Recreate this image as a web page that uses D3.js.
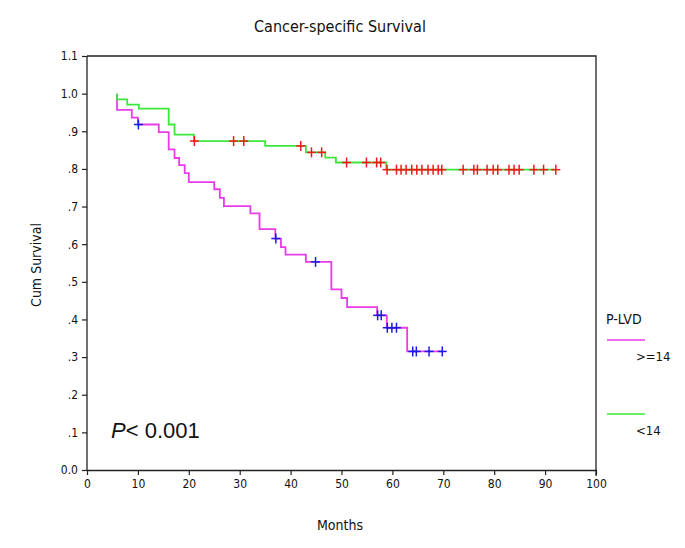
<!DOCTYPE html>
<html>
<head>
<meta charset="utf-8">
<script src="https://cdn.jsdelivr.net/npm/d3@7"></script>
<style>
  html, body { margin: 0; padding: 0; background: #fff; }
  svg text { font-family: "DejaVu Sans Condensed", "DejaVu Sans", sans-serif; fill: #111; }
</style>
</head>
<body>
<svg id="chart" width="685" height="548"></svg>
<script>
// ---------- data ----------
const title = "Cancer-specific Survival";
const xLabel = "Months";
const yLabel = "Cum Survival";
const legendTitle = "P-LVD";
const groups = [">=14", "<14"];

const xTicks = [0, 10, 20, 30, 40, 50, 60, 70, 80, 90, 100];
const yTicks = [0, 0.1, 0.2, 0.3, 0.4, 0.5, 0.6, 0.7, 0.8, 0.9, 1.0, 1.1];
const yTickLabels = ["0.0", ".1", ".2", ".3", ".4", ".5", ".6", ".7", ".8", ".9", "1.0", "1.1"];

// P-LVD >= 14 : step times and survival after each step
const highStart = 5.9;
const highTimes = [5.9, 8.8, 10.0, 14.1, 16.05, 17.2, 18.1, 19.2, 20.0, 25.0, 26.1, 26.9, 32.1, 33.9, 37.0, 38.1, 39.0, 43.0, 48.0, 50.0, 51.1, 57.0, 58.9, 62.9];
const highSurv  = [0.957, 0.936, 0.918, 0.898, 0.852, 0.829, 0.810, 0.789, 0.765, 0.746, 0.723, 0.701, 0.682, 0.640, 0.615, 0.592, 0.572, 0.553, 0.480, 0.457, 0.433, 0.411, 0.378, 0.315];
const highEnd = 69.8;
const highCensored = [10.1, 37.1, 44.9, 57.1, 57.8, 59.0, 59.9, 60.8, 64.0, 64.7, 67.2, 69.8];

// P-LVD < 14
const lowStart = 5.9;
const lowTimes = [5.9, 7.9, 10.2, 16.05, 17.2, 21.0, 35.0, 43.0, 46.8, 48.9, 58.8];
const lowSurv  = [0.985, 0.971, 0.960, 0.918, 0.891, 0.874, 0.861, 0.844, 0.830, 0.817, 0.798];
const lowEnd = 92.1;
const lowCensored = [21.1, 28.8, 30.8, 42.0, 44.1, 46.1, 51.0, 54.9, 56.9, 57.7, 58.95, 60.8, 61.7, 62.7, 63.8, 64.8, 65.8, 67.0, 68.0, 69.0, 69.7, 73.9, 76.0, 76.7, 78.6, 79.8, 80.7, 82.9, 83.9, 84.9, 87.8, 89.7, 92.1];

const pText = "< 0.001";

// ---------- drawing ----------
const svg = d3.select("#chart");
const x = d3.scaleLinear().domain([0, 100]).range([87, 596]);
const y = d3.scaleLinear().domain([0, 1.1]).range([470, 56]);

const colHigh = "#e83ce8", colLow = "#3ce83c";
const colCensHigh = "#1a1ae0", colCensLow = "#ee1a1a";

// frame (top + right)
svg.append("path")
  .attr("d", `M${x(0)},${y(1.1)}H${x(100)}V${y(0)}`)
  .attr("fill", "none").attr("stroke", "#222").attr("stroke-width", 1.3);

// axes
const xAxis = d3.axisBottom(x).tickValues(xTicks).tickSize(5).tickPadding(4).tickFormat(d3.format("d"));
const yAxis = d3.axisLeft(y).tickValues(yTicks).tickSize(5).tickPadding(4).tickFormat((d, i) => yTickLabels[i]);

const gx = svg.append("g").attr("transform", `translate(0,${y(0)})`).call(xAxis);
const gy = svg.append("g").attr("transform", `translate(${x(0)},0)`).call(yAxis);
[gx, gy].forEach(g => {
  g.select(".domain").attr("stroke", "#222").attr("stroke-width", 1.3);
  g.selectAll(".tick line").attr("stroke", "#222").attr("stroke-width", 1.2);
  g.selectAll(".tick text").style("font-size", "12px").attr("fill", "#111")
    .style("font-family", '"DejaVu Sans Condensed", "DejaVu Sans", sans-serif');
});
gx.select(".domain").attr("d", `M${x(0)},0.5H${x(100)}V6`);
gy.select(".domain").attr("d", `M0,${y(0)}V${y(1.1)}`);

function stepPoints(start, times, surv, end) {
  const pts = [[start, 1.0]];
  times.forEach((t, i) => pts.push([t, surv[i]]));
  pts.push([end, surv[surv.length - 1]]);
  return pts;
}
const line = d3.line().x(d => x(d[0])).y(d => y(d[1])).curve(d3.curveStepAfter);

const highPts = stepPoints(highStart, highTimes, highSurv, highEnd);
const lowPts = stepPoints(lowStart, lowTimes, lowSurv, lowEnd);
// step-after with values: need first point value 1.0 then drop at time t
function toStep(start, times, surv, end) {
  const pts = [[start, 1.0]];
  let prev = 1.0;
  times.forEach((t, i) => { pts.push([t, prev]); pts.push([t, surv[i]]); prev = surv[i]; });
  pts.push([end, prev]);
  return pts;
}
const lineLin = d3.line().x(d => x(d[0])).y(d => y(d[1]));

svg.append("path").datum(toStep(highStart, highTimes, highSurv, highEnd))
  .attr("d", lineLin).attr("fill", "none").attr("stroke", colHigh).attr("stroke-width", 1.8);
svg.append("path").datum(toStep(lowStart, lowTimes, lowSurv, lowEnd))
  .attr("d", lineLin).attr("fill", "none").attr("stroke", colLow).attr("stroke-width", 1.8);

function survAt(t, times, surv) {
  let s = 1.0;
  times.forEach((tt, i) => { if (tt <= t) s = surv[i]; });
  return s;
}
function drawCensors(list, times, surv, color) {
  const g = svg.append("g");
  list.forEach(t => {
    const cx = x(t), cy = y(survAt(t, times, surv));
    g.append("line").attr("x1", cx).attr("x2", cx).attr("y1", cy - 5).attr("y2", cy + 5)
      .attr("stroke", color).attr("stroke-width", 1.5);
    g.append("line").attr("x1", cx - 4.5).attr("x2", cx + 4.5).attr("y1", cy).attr("y2", cy)
      .attr("stroke", color).attr("stroke-width", 1.5);
  });
}
drawCensors(highCensored, highTimes, highSurv, colCensHigh);
drawCensors(lowCensored, lowTimes, lowSurv, colCensLow);

// title and axis labels
svg.append("text").attr("x", 340).attr("y", 32).attr("text-anchor", "middle")
  .style("font-size", "16px").text(title);
svg.append("text").attr("x", 340).attr("y", 530).attr("text-anchor", "middle")
  .style("font-size", "14px").text(xLabel);
svg.append("text").attr("transform", "translate(41,265) rotate(-90)").attr("text-anchor", "middle")
  .style("font-size", "14px").text(yLabel);

// P value
const pt = svg.append("text").attr("x", 111).attr("y", 438)
  .style("font-family", '"Liberation Sans", Arial, sans-serif').style("font-size", "22px");
pt.append("tspan").style("font-style", "italic").style("font-family", '"Liberation Sans", Arial, sans-serif').text("P");
pt.append("tspan").style("font-family", '"Liberation Sans", Arial, sans-serif').text(pText);

// legend
svg.append("text").attr("x", 606).attr("y", 324).style("font-size", "14px").text(legendTitle);
const legendY = [340, 414];
const legendCols = [colHigh, colLow];
groups.forEach((gname, i) => {
  svg.append("line").attr("x1", 607).attr("x2", 645).attr("y1", legendY[i]).attr("y2", legendY[i])
    .attr("stroke", legendCols[i]).attr("stroke-width", 1.5);
  svg.append("text").attr("x", 636).attr("y", legendY[i] + 21).style("font-size", "13px").text(gname);
});
</script>
</body>
</html>
